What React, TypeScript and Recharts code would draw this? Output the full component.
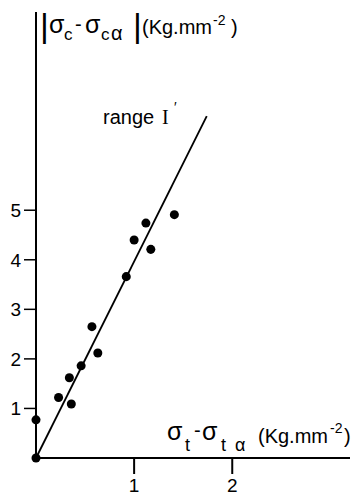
import { ScatterChart, Scatter, XAxis, YAxis } from "recharts";

const dx = [0, 0, 0.23, 0.34, 0.36, 0.46, 0.57, 0.63, 0.92, 1.0, 1.12, 1.17, 1.41];
const dy = [0, 0.77, 1.22, 1.62, 1.09, 1.86, 2.65, 2.12, 3.66, 4.4, 4.74, 4.21, 4.91];

// fitted straight line, range I'
const fitX = [0, 1.74];
const fitY = [0, 6.9];

const xTicks = [1, 2];
const yTicks = [1, 2, 3, 4, 5];

const points = dx.map((x, i) => ({ x, y: dy[i] }));
const fit = fitX.map((x, i) => ({ x, y: fitY[i] }));

const font = "'Liberation Sans', Arial, sans-serif";

export default function App() {
  return (
    <div style={{ position: "absolute", left: 0, top: 0, width: 359, height: 499, background: "#fff" }}>
      <ScatterChart
        width={359}
        height={499}
        margin={{ top: 12, right: 9, left: 0, bottom: 0 }}
      >
        <XAxis
          type="number"
          dataKey="x"
          domain={[0, 3.2]}
          ticks={xTicks}
          height={41}
          tickSize={16}
          tickMargin={5}
          axisLine={{ stroke: "#000", strokeWidth: 2 }}
          tickLine={{ stroke: "#000", strokeWidth: 2 }}
          tick={{ fill: "#000", fontSize: 19, fontFamily: font }}
        />
        <YAxis
          type="number"
          dataKey="y"
          domain={[0, 9]}
          ticks={yTicks}
          width={36}
          tickSize={12}
          tickMargin={3}
          axisLine={{ stroke: "#000", strokeWidth: 2 }}
          tickLine={{ stroke: "#000", strokeWidth: 1.5 }}
          tick={{ fill: "#000", fontSize: 19, fontFamily: font }}
        />
        <Scatter
          data={fit}
          line={{ stroke: "#000", strokeWidth: 1.8 }}
          shape={() => null}
          isAnimationActive={false}
        />
        <Scatter data={points} fill="#000" shape="circle" isAnimationActive={false} />

        {/* y axis title */}
        <text fontFamily={font} fill="#000">
          <tspan x={40} y={37} fontSize={34}>|</tspan>
          <tspan x={49} y={33} fontSize={25}>σ</tspan>
          <tspan x={64} y={40} fontSize={17}>c</tspan>
          <tspan x={75} y={31} fontSize={20}>-</tspan>
          <tspan x={85} y={33} fontSize={25}>σ</tspan>
          <tspan x={101} y={40} fontSize={17}>c</tspan>
          <tspan x={111} y={40} fontSize={20}>α</tspan>
          <tspan x={133} y={37} fontSize={34}>|</tspan>
          <tspan x={142} y={34} fontSize={20}>(Kg.mm</tspan>
          <tspan x={213} y={25} fontSize={14}>-2</tspan>
          <tspan x={231} y={34} fontSize={20}>)</tspan>
        </text>

        <text fill="#000">
          <tspan x={103} y={124} fontSize={20} fontFamily={font}>range</tspan>
          <tspan x={162} y={124} fontSize={20} fontFamily="'Liberation Serif', serif">I</tspan>
          <tspan x={174} y={112} fontSize={14} fontFamily={font}>′</tspan>
        </text>

        {/* x axis title */}
        <text fontFamily={font} fill="#000">
          <tspan x={167} y={440} fontSize={25}>σ</tspan>
          <tspan x={185} y={451} fontSize={18}>t</tspan>
          <tspan x={194} y={437} fontSize={20}>-</tspan>
          <tspan x={202} y={440} fontSize={25}>σ</tspan>
          <tspan x={221} y={451} fontSize={18}>t</tspan>
          <tspan x={235} y={451} fontSize={18}>α</tspan>
          <tspan x={258} y={443} fontSize={20}>(Kg.mm</tspan>
          <tspan x={330} y={433} fontSize={14}>-2</tspan>
          <tspan x={344} y={443} fontSize={20}>)</tspan>
        </text>
      </ScatterChart>
    </div>
  );
}
